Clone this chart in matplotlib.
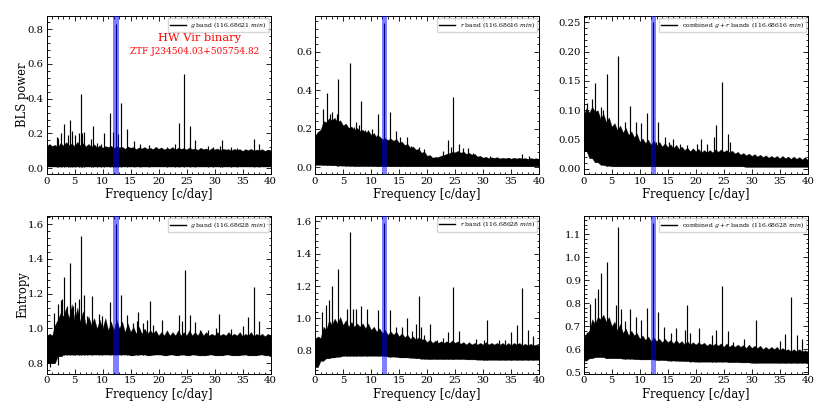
import matplotlib
matplotlib.use("Agg")
import matplotlib.pyplot as plt
from matplotlib.ticker import AutoMinorLocator, MultipleLocator, FormatStrFormatter

plt.rcParams['font.family'] = ['DejaVu Serif']
plt.rcParams['mathtext.fontset'] = 'dejavuserif'

lower_grid = list(range(0, 41))
upper_grid = [k / 2 for k in range(81)]

g_bls_upper = [.125,.140,.128,.135,.122,.146,.130,.150,.134,.142,.128,.152,.132,.145,.126,.140,.124,.138,.120,.132,
               .118,.128,.122,.130,.116,.126,.120,.124,.112,.126,.118,.122,.110,.120,.114,.122,.112,.118,.110,.124,
               .112,.120,.108,.116,.112,.122,.108,.118,.112,.116,.108,.120,.110,.114,.106,.118,.110,.114,.104,.116,
               .108,.114,.104,.112,.108,.110,.102,.112,.106,.110,.100,.110,.104,.112,.102,.108,.104,.110,.100,.108,.104]
g_bls_lower = [.010]*41
g_bls_pf = [12.35,6.2,24.6,13.35,11.3,4.2,3.1,8.25,23.7,25.7,14.3,10.3,6.7,5.85,2.5,1.8,2.0,4.6,3.9,5.0,6.4,7.9,9.0,9.8,
            11.9,12.8,15.7,16.7,18.3,23.0,26.6,28.8,29.8,30.9,31.3,37.0,38.0,21.5,33.0,34.0]
g_bls_pv = [.83,.425,.54,.375,.32,.28,.255,.245,.26,.24,.225,.205,.21,.205,.205,.18,.175,.215,.19,.19,.20,.17,.145,.14,
            .21,.195,.155,.14,.135,.14,.165,.13,.125,.13,.16,.17,.14,.125,.12,.118]

r_bls_upper = [.165,.185,.195,.240,.235,.255,.245,.258,.235,.245,.218,.228,.205,.212,.195,.205,.190,.195,.182,.190,
               .170,.176,.156,.162,.146,.152,.142,.150,.138,.148,.128,.134,.116,.122,.102,.108,.092,.096,.076,.082,
               .060,.064,.050,.054,.054,.060,.064,.070,.074,.080,.078,.086,.076,.082,.070,.075,.066,.070,.056,.060,
               .050,.055,.048,.052,.049,.053,.046,.050,.047,.051,.045,.050,.046,.050,.045,.048,.044,.048,.045,.047,.044]
r_bls_lower = [.012,.012,.011,.010,.009,.008,.007,.006,.006,.006,.006,.005,.005,.005,.005,.005,.005,.005,.005,.005,
               .005,.005,.005,.005,.005,.005,.005,.005,.005,.005,.005,.005,.005,.005,.005,.005,.005,.005,.005,.005,.005]
r_bls_pf = [12.35,6.2,4.15,2.1,24.6,8.2,13.35,11.3,1.4,3.1,2.7,4.0,7.3,7.9,6.9,5.5,9.0,9.4,10.2,10.6,11.1,14.4,15.2,16.4,
            17.2,18.5,19.4,22.9,23.7,24.2,25.7,26.5,27.4,28.3,31.2,37.0,38.3]
r_bls_pv = [.75,.54,.46,.385,.365,.345,.285,.275,.305,.285,.275,.275,.235,.22,.21,.20,.195,.195,.20,.18,.17,.19,.16,.155,
            .11,.105,.095,.085,.14,.105,.12,.10,.10,.075,.06,.07,.06]

c_bls_upper = [.092,.104,.096,.106,.098,.100,.085,.094,.080,.088,.072,.078,.066,.074,.062,.070,.058,.064,.054,.060,
               .046,.052,.044,.050,.041,.048,.040,.046,.038,.044,.037,.042,.035,.041,.034,.038,.032,.036,.030,.035,
               .030,.034,.028,.032,.028,.032,.028,.033,.029,.033,.029,.032,.028,.031,.026,.029,.024,.027,.023,.026,
               .022,.025,.021,.024,.020,.023,.019,.022,.019,.022,.018,.022,.018,.021,.017,.021,.017,.020,.016,.020,.015]
c_bls_lower = [.030,.018,.011,.007,.005,.004,.004,.004,.004,.004,.004,.004,.004,.004,.004,.004,.004,.004,.004,.004,
               .004,.004,.004,.004,.004,.004,.004,.004,.004,.003,.003,.003,.003,.003,.003,.003,.003,.003,.003,.003,.003]
c_bls_pf = [12.35,6.2,4.15,2.05,24.65,8.2,11.3,1.4,.5,3.05,3.4,3.7,9.3,7.3,10.3,13.35,23.7,25.7,23.2,14.6,16.0,26.2,20.2,20.9,
            22.0,17.2,18.4,15.3,12.9]
c_bls_pv = [.25,.192,.162,.146,.148,.108,.096,.119,.112,.105,.10,.088,.08,.08,.078,.08,.074,.06,.055,.055,.05,.045,.043,.05,
            .042,.042,.04,.045,.045]

g_ent_upper = [.95,.97,.96,1.02,1.05,1.09,1.07,1.12,1.06,1.14,1.05,1.12,1.04,1.10,1.02,1.07,1.02,1.06,1.00,1.05,
               1.00,1.06,.99,1.04,.99,1.05,1.00,1.04,.98,1.03,.98,1.01,.97,1.01,.97,1.00,.97,.99,.97,.99,
               .96,.98,.96,.99,.96,.98,.96,.99,.96,.98,.96,.99,.96,.98,.96,.99,.96,.98,.96,.97,
               .96,.98,.96,.97,.96,.98,.96,.97,.96,.98,.955,.97,.96,.98,.955,.97,.96,.97,.955,.97,.96]
g_ent_lower = [.80,.80,.84,.85,.85,.85,.85,.85,.85,.85,.85,.85,.85,.85,.85,.845,.85,.85,.845,.85,
               .85,.845,.85,.845,.85,.845,.85,.845,.845,.85,.845,.845,.85,.845,.845,.85,.845,.845,.85,.845,.845]
g_ent_pf = [12.35,6.2,4.15,3.1,24.65,37.0,6.7,13.35,5.75,8.2,18.5,11.3,2.5,2.8,2.0,1.4,9.4,14.4,16.4,20.6,23.7,24.2,25.7,26.6,
            30.8,36.0,38.0,35.0,30.2,33.0,27.4,28.8,19.1,15.4,16.1,17.3,18.0,3.7,4.7,5.1,7.3,9.9]
g_ent_pv = [1.6,1.53,1.375,1.295,1.335,1.24,1.19,1.19,1.17,1.185,1.155,1.15,1.165,1.17,1.14,1.09,1.085,1.08,1.095,1.05,1.075,1.04,1.08,1.035,
            1.085,1.065,1.04,1.015,1.0,.995,.99,.99,1.02,1.03,1.04,1.03,1.05,1.13,1.13,1.15,1.07,1.07]
g_ent_df = [0.2,0.6,2.0]
g_ent_dv = [.80,.78,.79]

r_ent_upper = [.87,.89,.88,.95,.93,.99,.96,1.00,.97,1.01,.96,.99,.95,.98,.95,.97,.95,.97,.94,.97,
               .93,.95,.92,.94,.91,.93,.90,.92,.90,.92,.89,.91,.885,.90,.875,.89,.87,.885,.87,.875,
               .855,.87,.85,.865,.85,.86,.85,.86,.85,.865,.85,.86,.845,.855,.84,.855,.84,.85,.84,.85,
               .84,.855,.84,.85,.84,.85,.84,.85,.835,.85,.835,.85,.84,.85,.835,.845,.835,.845,.835,.84,.835]
r_ent_lower = [.70,.74,.755,.76,.765,.77,.77,.77,.77,.77,.77,.77,.77,.765,.765,.76,.76,.758,.755,.752,
               .75,.75,.75,.75,.75,.75,.75,.748,.748,.746,.745,.745,.745,.745,.745,.745,.745,.745,.745,.745,.745]
r_ent_pf = [12.35,6.2,4.15,3.1,24.65,37.0,18.5,2.0,2.5,1.2,5.7,6.7,7.4,8.2,9.3,11.3,13.35,16.4,30.8,20.5,18.0,19.0,14.4,15.5,
            36.0,35.0,25.7,23.7,38.0,39.0,32.9,34.0,28.7,30.2,22.9,21.8,19.5,17.3]
r_ent_pv = [1.585,1.53,1.305,1.2,1.195,1.19,1.14,1.08,1.115,1.04,1.06,1.06,1.06,1.075,1.06,1.05,1.05,1.0,.99,.965,.965,.95,.945,.945,
            .96,.915,.925,.915,.93,.895,.87,.865,.875,.87,.88,.87,.90,.925]

c_ent_upper = [.65,.67,.68,.73,.71,.74,.73,.75,.72,.74,.70,.72,.68,.71,.67,.69,.66,.68,.66,.67,
               .645,.66,.64,.655,.635,.65,.635,.645,.63,.645,.63,.64,.625,.64,.625,.635,.62,.635,.62,.63,
               .62,.63,.62,.628,.615,.625,.615,.625,.615,.625,.61,.625,.61,.62,.61,.62,.61,.618,.605,.62,
               .605,.615,.605,.615,.60,.61,.60,.61,.60,.61,.595,.605,.595,.60,.59,.60,.59,.60,.59,.595,.59]
c_ent_lower = [.55,.56,.565,.565,.56,.56,.56,.558,.558,.556,.555,.555,.555,.552,.552,.55,.55,.548,.548,.546,
               .545,.545,.545,.545,.545,.545,.543,.543,.542,.542,.54,.54,.54,.54,.54,.54,.54,.54,.54,.54,.54]
c_ent_pf = [12.35,6.2,4.15,3.1,2.5,2.05,1.2,24.65,37.0,18.5,5.75,6.7,8.2,9.3,10.3,11.3,13.35,30.8,7.4,14.4,16.4,20.5,18.0,23.7,
            25.7,22.9,36.0,38.0,39.0,35.0,19.0,15.5,26.6,28.7]
c_ent_pv = [1.15,1.13,.98,.93,.86,.82,.795,.875,.825,.79,.79,.775,.775,.74,.725,.78,.76,.725,.72,.695,.69,.69,.685,.685,
            .68,.66,.665,.66,.645,.635,.67,.67,.63,.645]

legend_labels = [r'$g$ band (116.68621 $min$)', r'$r$ band (116.68616 $min$)',
                 r'combined $g+r$ bands (116.68616 $min$)', r'$g$ band (116.68628 $min$)',
                 r'$r$ band (116.68628 $min$)', r'combined $g+r$ bands (116.68628 $min$)']
x_label = 'Frequency [c/day]'
row_labels = ['BLS power', 'Entropy']
title_lines = ['HW Vir binary', 'ZTF J234504.03+505754.82']

series = [
    (g_bls_upper, g_bls_lower, g_bls_pf, g_bls_pv, None, None),
    (r_bls_upper, r_bls_lower, r_bls_pf, r_bls_pv, None, None),
    (c_bls_upper, c_bls_lower, c_bls_pf, c_bls_pv, None, None),
    (g_ent_upper, g_ent_lower, g_ent_pf, g_ent_pv, g_ent_df, g_ent_dv),
    (r_ent_upper, r_ent_lower, r_ent_pf, r_ent_pv, None, None),
    (c_ent_upper, c_ent_lower, c_ent_pf, c_ent_pv, None, None),
]
ylims = [(-.033,.875),(-.035,.787),(-.009,.261),(.74,1.648),(.66,1.633),(.493,1.18)]
y_major = [.2,.2,.05,.2,.2,.1]
left = [46.5,315,583.7]
W,H = 830,415
axw = 224
tops = [16,215.7]
axh = 158

fig = plt.figure(figsize=(8.3,4.15),dpi=100)
for i,(up,lo,pf,pv,df,dv) in enumerate(series):
    r,c = divmod(i,3)
    ax = fig.add_axes([left[c]/W, 1-(tops[r]+axh)/H, axw/W, axh/H])
    ax.fill_between(upper_grid,[lo[k//2] for k in range(81)],up,color='k',lw=0.2,zorder=2)
    ax.vlines(pf,[lo[int(f)] for f in pf],pv,color='k',lw=0.85,zorder=2)
    if df:
        ax.vlines(df,dv,[up[int(f*2)] for f in df],color='k',lw=0.85,zorder=2)
    ax.plot([],[],color='k',lw=1,label=legend_labels[i])
    ax.axvspan(11.95,12.9,color='blue',alpha=.5,lw=0,zorder=3)
    ax.set_xlim(0,40); ax.set_ylim(*ylims[i])
    ax.xaxis.set_major_locator(MultipleLocator(5))
    ax.yaxis.set_major_locator(MultipleLocator(y_major[i]))
    ax.xaxis.set_minor_locator(AutoMinorLocator(5))
    ax.yaxis.set_minor_locator(AutoMinorLocator(5))
    ax.tick_params(which='both',direction='in',top=True,right=True,labelsize=7.3,pad=2,width=.6)
    ax.tick_params(which='major',length=3.5)
    ax.tick_params(which='minor',length=1.8)
    ax.yaxis.set_major_formatter(FormatStrFormatter('%.2f' if i==2 else '%.1f'))
    for s in ax.spines.values(): s.set_linewidth(.7)
    ax.set_xlabel(x_label,fontsize=8.4,labelpad=1.5)
    if c==0:
        ax.set_ylabel(row_labels[r],fontsize=8.3,labelpad=-1)
    ax.legend(loc='upper right',fontsize=4.45,borderaxespad=.3,handlelength=2.6,borderpad=.35,handletextpad=.7)
    if i==0:
        ax.text(.685,.86,title_lines[0],color='red',fontsize=8.2,ha='center',va='center',transform=ax.transAxes)
        ax.text(.663,.778,title_lines[1],color='red',fontsize=6.4,ha='center',va='center',transform=ax.transAxes)
fig.savefig('out.png',dpi=100)
